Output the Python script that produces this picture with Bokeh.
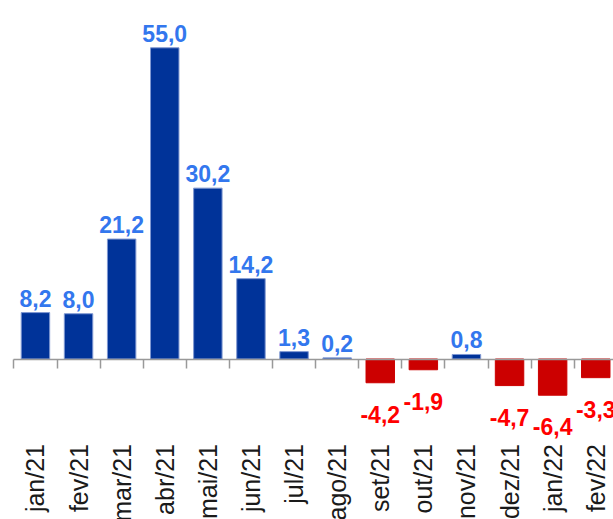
from math import pi
from bokeh.plotting import figure
from bokeh.models import ColumnDataSource, Range1d, LinearAxis, FixedTicker
from bokeh.core.properties import value
from bokeh.embed import file_html
from bokeh.resources import INLINE

months = ["jan/21", "fev/21", "mar/21", "abr/21", "mai/21", "jun/21", "jul/21",
          "ago/21", "set/21", "out/21", "nov/21", "dez/21", "jan/22", "fev/22"]
values = [8.2, 8.0, 21.2, 55.0, 30.2, 14.2, 1.3, 0.2, -4.2, -1.9, 0.8, -4.7, -6.4, -3.3]

POS_BAR, NEG_BAR = "#003399", "#CC0000"
POS_EDGE = "#7f98d2"
POS_TXT, NEG_TXT = "#3377EE", "#FF0000"

xs = list(range(len(months)))
bounds = [i - 0.5 for i in range(len(months) + 1)]

src = ColumnDataSource(dict(
    x=xs,
    top=values,
    fill=[POS_BAR if v >= 0 else NEG_BAR for v in values],
    edge=[POS_EDGE if v >= 0 else NEG_BAR for v in values],
    txt=[f"{v:.1f}".replace(".", ",") for v in values],
    tcol=[POS_TXT if v >= 0 else NEG_TXT for v in values],
    yoff=[-14.5 if v >= 0 else 31.5 for v in values],
))

px_per_cat = 43.1
x_start = -0.5 - 13.4 / px_per_cat
x_end = x_start + 613 / px_per_cat
px_per_unit = 5.658
zero_px = 358.5
y_end = zero_px / px_per_unit
y_start = -(519 - zero_px) / px_per_unit

p = figure(width=613, height=519, output_backend="svg", toolbar_location=None,
           x_range=Range1d(x_start, x_end), y_range=Range1d(y_start, y_end),
           x_axis_location=None, y_axis_location=None, min_border=0,
           outline_line_color=None, background_fill_color="white",
           border_fill_color="white")
p.grid.visible = False

p.vbar(x="x", top="top", bottom=0, width=0.66, source=src,
       fill_color="fill", line_color="edge", line_width=1)

p.text(x="x", y="top", text="txt", source=src, text_color="tcol",
       y_offset="yoff", text_align="center", text_baseline="alphabetic",
       text_font=value("Liberation Sans"), text_font_style="bold",
       text_font_size="23px")

ax = LinearAxis(fixed_location=0,
                ticker=FixedTicker(ticks=xs, minor_ticks=bounds))
ax.bounds = (bounds[0], bounds[-1])
ax.axis_line_color = "#999999"
ax.axis_line_width = 1.5
ax.major_tick_in = 0
ax.major_tick_out = 9
ax.major_tick_line_color = None
ax.minor_tick_in = 0
ax.minor_tick_out = 9
ax.minor_tick_line_color = "#999999"
ax.minor_tick_line_width = 1.5
ax.major_label_overrides = {i: m for i, m in zip(xs, months)}
ax.major_label_orientation = pi / 2
ax.major_label_standoff = 76
ax.major_label_text_font = "Liberation Sans"
ax.major_label_text_font_size = "25px"
ax.major_label_text_color = "#1a1a1a"
p.add_layout(ax, "below")

open("out.html", "w").write(file_html(p, INLINE))
